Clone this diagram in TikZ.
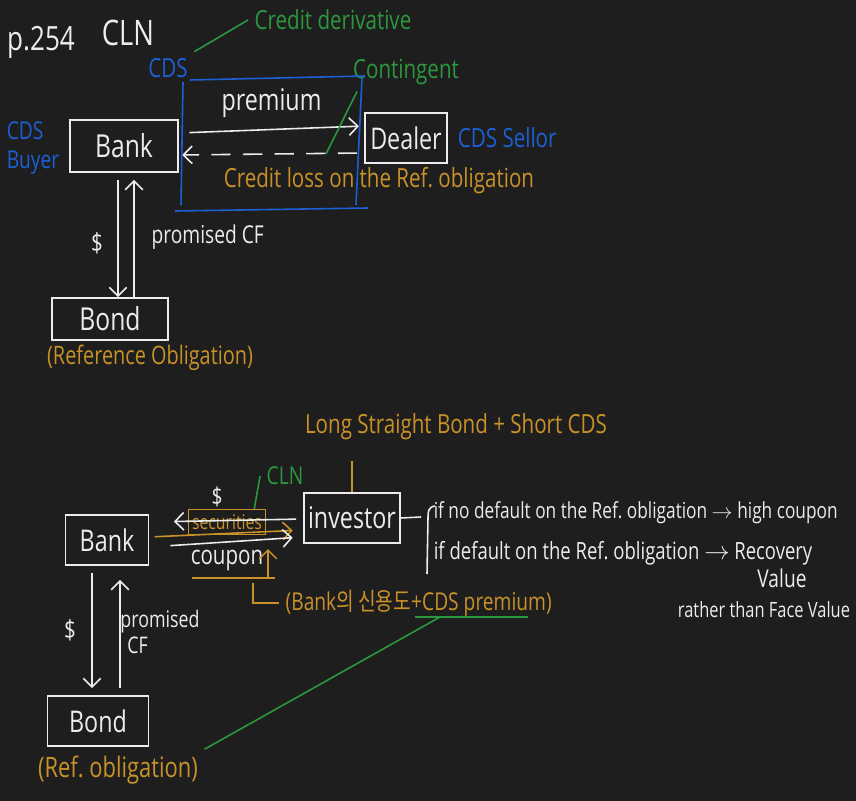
\documentclass[tikz,border=0pt]{standalone}
\usepackage{fontspec}
\setmainfont{Open Sans}[FakeStretch=0.78]
\newfontfamily\krfont{Noto Sans CJK KR}[FakeStretch=0.78]
\usetikzlibrary{arrows.meta,positioning}

\definecolor{board}{RGB}{30,30,30}
\definecolor{chalk}{RGB}{236,236,236}
\definecolor{cdsblue}{RGB}{28,96,214}
\definecolor{notegreen}{RGB}{44,152,62}
\definecolor{noteorange}{RGB}{201,146,40}

\tikzset{
  hand/.style={font=\fontsize{#1}{#1}\selectfont},
  party/.style={draw=chalk, inner sep=0pt},
  bluenote/.style={color=cdsblue},
  greennote/.style={color=notegreen},
  orangenote/.style={color=noteorange}
}

\begin{document}
\begin{tikzpicture}[x=0.02cm,y=-0.02cm,line width=0.9pt,
    >={Straight Barb[length=5pt,width=10pt]}]
  \fill[board] (0,0) rectangle (856,801);
  \useasboundingbox (0,0) rectangle (856,801);

  % plain CDS
  \begin{scope}
    \tikzstyle{every node}=[color=chalk]

    \node[hand=19] (page)  at (41,42)  {p.254};
    \node[hand=20] (topic) at (128,33) {CLN};

    \node[party,hand=18,minimum width=2.16cm,minimum height=1.04cm] (banka)  at (124,146) {Bank};
    \node[party,hand=17,minimum width=1.64cm,minimum height=1cm]    (dealer) at (406,138) {Dealer};
    \node[party,hand=18,minimum width=2.32cm,minimum height=.84cm]  (bonda)  at (110,319) {Bond};

    \node[bluenote,hand=15]            (cds)    at (168,68)  {CDS};
    \node[bluenote,hand=14,align=left] (buyer)  at (33,148)  {CDS\\[2pt]Buyer};
    \node[bluenote,hand=15,right=2pt of dealer] (seller) {CDS Sellor};
    \node[greennote,hand=15]  (credder)    at (333,20)  {Credit derivative};
    \node[greennote,hand=15]  (contingent) at (406,72)  {Contingent};
    \node[orangenote,hand=15] (loss)       at (379,181) {Credit loss on the Ref.\ obligation};
    \node[orangenote,hand=14.5] (refa)     at (150,358) {(Reference Obligation)};
    \node[hand=15] (cash)     at (97,243)  {\$};
    \node[hand=14,anchor=west] (promised) at (145,237) {promised CF};
    \coordinate (lossmark) at (326,154);

    \path[->,color=chalk]
      (banka.east |- 0,133)  edge[shorten <=6pt,shorten >=3pt]
                             node[above=3pt,hand=17] {premium} (dealer.west |- 0,126)
      (dealer.west |- 0,153) edge[dash pattern=on 11pt off 7pt,shorten <=4pt,shorten >=2pt] (banka.east |- 0,155)
      (banka.south -| 118,0) edge[shorten <=4pt] (bonda.north -| 118,0)
      (bonda.north -| 134,0) edge[shorten >=4pt] (banka.south -| 134,0);

    \draw[cdsblue] (190,80) -- (365,76) (183,82) -- (181,205)
                   (362,78) -- (356,205) (175,211) -- (368,208);
    \draw[notegreen] (cds.north east) -- (credder.west);
    \draw[notegreen] ([xshift=6pt]contingent.south west) -- (lossmark);
  \end{scope}

  % CLN
  \begin{scope}
    \tikzstyle{every node}=[color=chalk]

    \node[party,hand=17,minimum width=1.66cm,minimum height=1cm]  (bankb)    at (107,540) {Bank};
    \node[party,hand=17,minimum width=1.92cm,minimum height=1cm]  (investor) at (352,518) {investor};
    \node[party,hand=17,minimum width=2.02cm,minimum height=1cm]  (bondb)    at (98,721)  {Bond};

    \node[orangenote,hand=15]  (longbond) at (456,427) {Long Straight Bond + Short CDS};
    \node[greennote,hand=14]   (clnnote)  at (285,476) {CLN};
    \node[hand=14]             (paid)     at (217,497) {\$};
    \node[draw=notegreen,orangenote,hand=11.5,inner sep=0pt,
          minimum width=1.54cm,minimum height=.5cm] (secur) at (227,522) {securities};
    \node[hand=15]             (coupon)   at (227,560) {coupon};
    \node[orangenote,hand=14,anchor=west] (spread) at (279,603)
         {(Bank{\krfont 의 신용도}+CDS premium)};
    \node[orangenote,hand=16]  (refb)     at (118,770) {(Ref.\ obligation)};
    \node[hand=15]             (cashb)    at (70,630)  {\$};
    \node[hand=13,align=left]  (promisedb) at (160,632) {promised\\[2pt]\hspace{4pt}CF};

    \node[hand=12.6,anchor=west,inner sep=0pt] (nodefault) at (433,513)
         {if no default on the Ref.\ obligation $\rightarrow$ high coupon};
    \node[hand=13.5,anchor=west,inner sep=0pt] (isdefault) at (433,553)
         {if default on the Ref.\ obligation $\rightarrow$ Recovery};
    \node[hand=14]   (value)  at (782,578) {Value};
    \node[hand=12]   (rather) at (764,610) {rather than Face Value};

    \coordinate (fork)    at (421,517);
    \coordinate (cpnmark) at (268,578);
    \coordinate (cdsprem) at (440,617);

    \path[->,color=chalk]
      (investor.west |- 0,519) edge[shorten <=4pt,shorten >=14pt] (bankb.east |- 0,522)
      (bankb.east |- 0,537)    edge[noteorange,shorten <=3pt,shorten >=6pt] (investor.west |- 0,530)
      (bankb.east |- 0,547)    edge[shorten <=12pt,shorten >=6pt] (investor.west |- 0,537)
      (bankb.south -| 92,0)    edge[shorten <=4pt,shorten >=4pt] (bondb.north -| 92,0)
      (bondb.north -| 120,0)   edge[shorten <=4pt,shorten >=8pt] (bankb.south -| 120,0);

    \draw[notegreen] (clnnote.west) -- ([xshift=-0.24cm]secur.north east);
    \draw[noteorange] ([yshift=-8pt]longbond.south -| investor.north) -- (investor.north);
    \draw[noteorange] (192,578) -- (cpnmark) -- (275,578);
    \draw[noteorange,->] (cpnmark) -- ++(0,-29);
    \draw[noteorange] (253,583) |- (spread.west);
    \draw[notegreen] (415,617) -- (528,617);
    \draw[notegreen] (cdsprem) -- (refb.north east);

    \draw[chalk] (investor.east) -- (fork)
                 (435,506) .. controls (428,507) and (428,512) .. (428,518) -- (427,574);
  \end{scope}
\end{tikzpicture}
\end{document}
